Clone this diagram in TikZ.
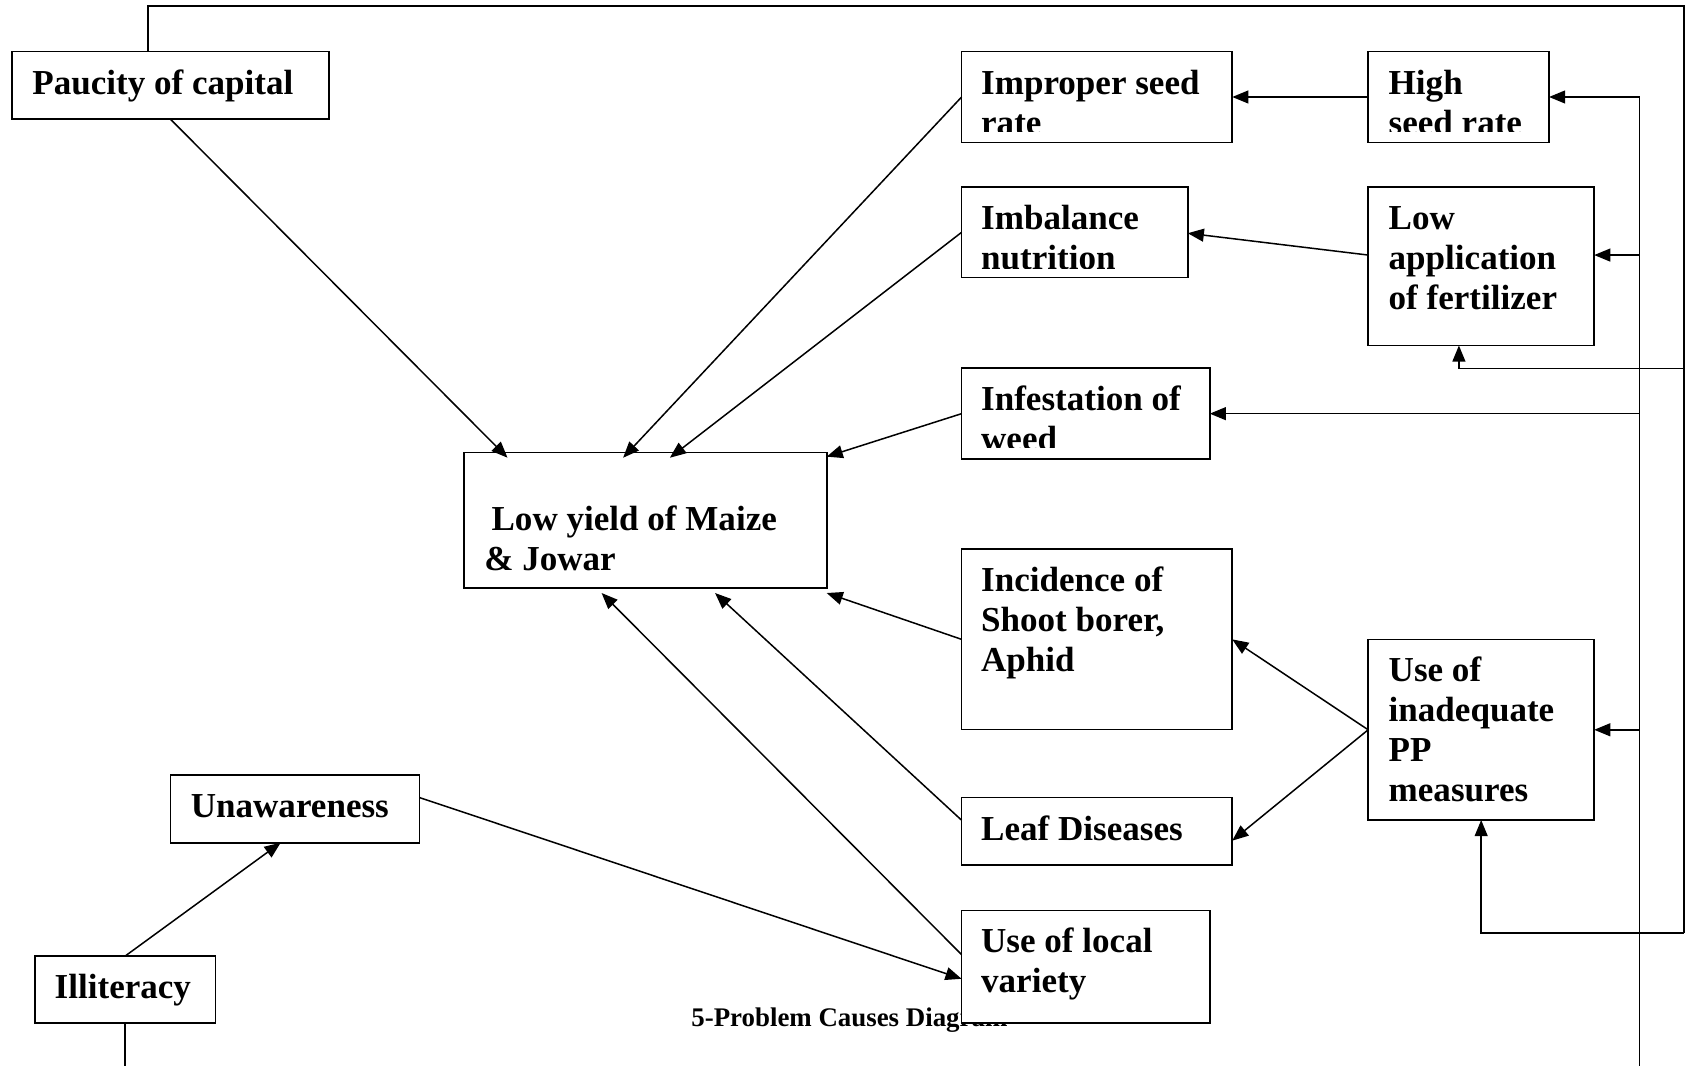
\documentclass[tikz,border=0pt]{standalone}
\usepackage{fontspec}
\setmainfont{Liberation Serif}
\usetikzlibrary{arrows.meta,calc}

% left-aligned block of lines whose baseline is the first line
\newcommand\celltext[1]{\begin{tabular}[t]{@{}l@{}}#1\end{tabular}}

\tikzset{
  box/.style={draw, line width=0.8pt, fill=white, inner sep=0pt, outer sep=0pt},
  lbl/.style={anchor=base west, inner sep=0pt, outer sep=0pt,
              font={\fontsize{16.3}{18.6}\selectfont\bfseries}},
  conn/.style={line width=0.7pt},
  arr/.style={conn, -{Triangle[length=7.5pt,width=6pt]}},
}

\begin{document}
\begin{tikzpicture}[x=0.5pt, y=-0.5pt]
\useasboundingbox (0,0) rectangle (1568,991);

% caption (partly hidden behind the last box)
\node[anchor=base west, inner sep=0pt, font={\fontsize{12.5}{15}\selectfont\bfseries}]
  (cap) at (642.6,954.6) {5-Problem Causes Diagram};

% boxes
\node[box, minimum width=147.3pt, minimum height=31.5pt]  (pc)  at (158.7,79.5)   {};
\node[box, minimum width=125.85pt, minimum height=42.2pt] (is)  at (1020.15,90.2) {};
\node[box, minimum width=84.15pt, minimum height=42.2pt]  (hs)  at (1356.45,90.2) {};
\node[box, minimum width=105.15pt, minimum height=42.15pt] (im) at (999.45,216.05) {};
\node[box, minimum width=105.1pt, minimum height=73.7pt]  (la)  at (1377.5,247.6) {};
\node[box, minimum width=115.4pt, minimum height=42.2pt]  (inf) at (1009.7,384.7) {};
\node[box, minimum width=168.65pt, minimum height=63.15pt] (ly) at (600.15,483.85) {};
\node[box, minimum width=125.85pt, minimum height=83.9pt] (inc) at (1020.15,594.6) {};
\node[box, minimum width=105.1pt, minimum height=83.9pt]  (upp) at (1377.5,678.7) {};
\node[box, minimum width=125.85pt, minimum height=31.25pt] (ld) at (1020.15,773.05) {};
\node[box, minimum width=115.4pt, minimum height=52.25pt] (lv)  at (1009.7,899.05) {};
\node[box, minimum width=115.8pt, minimum height=31.5pt]  (un)  at (274.3,752.2)  {};
\node[box, minimum width=83.85pt, minimum height=31.3pt]  (il)  at (116.45,920.4) {};

% box texts
\node[lbl] (tpc) at ($(pc.north west)+(18.8,39.5)$) {\celltext{Paucity of capital}};
\begin{scope}
  \clip (is.north west) rectangle ($(is.south east)+(0,-9.9)$);
  \node[lbl] (tis) at ($(is.north west)+(18.2,39.5)$) {\celltext{Improper seed\\rate}};
\end{scope}
\begin{scope}
  \clip (hs.north west) rectangle ($(hs.south east)+(0,-9.9)$);
  \node[lbl] (ths) at ($(hs.north west)+(19.2,39.5)$) {\celltext{High\\seed rate}};
\end{scope}
\begin{scope}
  \clip (im.north west) rectangle ($(im.south east)+(0,-8.7)$);
  \node[lbl] (tim) at ($(im.north west)+(18.2,39.8)$) {\celltext{Imbalance\\nutrition}};
\end{scope}
\node[lbl] (tla) at ($(la.north west)+(19.1,39.8)$) {\celltext{Low\\application\\of fertilizer}};
\begin{scope}
  \clip (inf.north west) rectangle ($(inf.south east)+(0,-10.5)$);
  \node[lbl] (tinf) at ($(inf.north west)+(18.2,39.2)$) {\celltext{Infestation of\\weed}};
\end{scope}
\node[lbl] (tly) at ($(ly.north west)+(18.9,72.2)$) {\celltext{\hspace*{3.4pt}Low yield of Maize\\\& Jowar}};
\node[lbl] (tinc) at ($(inc.north west)+(18.2,39.8)$) {\celltext{Incidence of\\Shoot borer,\\Aphid}};
\node[lbl] (tupp) at ($(upp.north west)+(19.1,39.3)$) {\celltext{Use of\\inadequate\\PP\\measures}};
\node[lbl] (tld) at ($(ld.north west)+(18.2,39.8)$) {\celltext{Leaf Diseases}};
\node[lbl] (tlv) at ($(lv.north west)+(18.2,39.2)$) {\celltext{Use of local\\variety}};
\node[lbl] (tun) at ($(un.north west)+(19,39.4)$) {\celltext{Unawareness}};
\node[lbl] (til) at ($(il.north west)+(18.3,39.3)$) {\celltext{Illiteracy}};

% causes leading into the central problem
\draw[arr] (pc.south) -- ($(ly.north west)+(40.5,5)$);
\draw[arr] (is.west) -- ($(ly.north west)+(148,5)$);
\draw[arr] (im.west) -- ($(ly.north west)+(191.5,5)$);
\draw[arr] (inf.west) -- ($(ly.north east)+(0,4)$);
\draw[arr] (inc.west) -- ($(ly.south east)+(0,4.5)$);
\draw[arr] ($(ld.north west)+(0,21)$) -- ($(ly.south west)+(233.5,4.5)$);
\draw[arr] ($(lv.north west)+(0,41)$) -- ($(ly.south west)+(128,4.5)$);

% second-level causes
\draw[arr] ($(un.north east)+(0,21)$) -- ($(lv.north west)+(0,63.5)$);
\draw[arr] (il.north) -- ($(un.south west)+(102.5,0)$);
\draw[arr] (hs.west) -- (is.east);
\draw[arr] ($(la.north west)+(0,63.3)$) -- ($(im.north east)+(0,43)$);
\draw[arr] (upp.west) -- (inc.east);
\draw[arr] (upp.west) -- ($(ld.north east)+(0,40)$);

% outer loop from paucity of capital
\coordinate (outerTR)  at (1566.2,5.6);
\coordinate (outerMid) at (1566.2,342.5);
\coordinate (outerBR)  at (1566.2,867.6);
\draw[conn] ($(pc.north west)+(126.4,0)$) |- (outerTR) -- (outerBR);
\draw[arr] (outerMid) -| ($(la.south west)+(84.4,0)$);
\draw[arr] (outerBR) -| (upp.south);

% inner loop from illiteracy
\coordinate (innerBot) at (1524.8,991);
\coordinate (laR) at ($(la.north east)+(0,63.3)$);
\draw[arr] (innerBot) |- (hs.east);
\draw[arr] (innerBot |- laR) -- (laR);
\draw[arr] (innerBot |- inf.east) -- (inf.east);
\draw[arr] (innerBot |- upp.east) -- (upp.east);
\coordinate (illBot) at (il.south |- innerBot);
\draw[conn] (il.south) -- (illBot);
\end{tikzpicture}
\end{document}
